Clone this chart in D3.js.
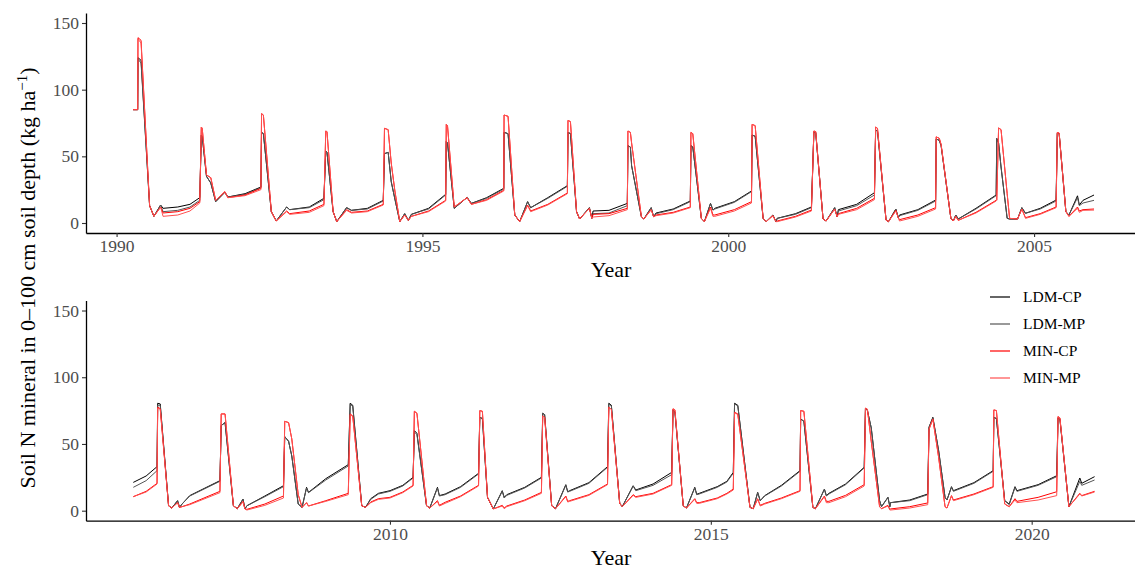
<!DOCTYPE html>
<html><head><meta charset="utf-8">
<script src="https://cdn.jsdelivr.net/npm/d3@7"></script>
<style>body{margin:0;background:#fff}</style>
</head><body>
<svg id="c" width="1135" height="569"></svg>
<script>
// ---- DATA ----
const years = [
 1990.27,1990.345,1990.35,1990.40,1990.54,1990.61,1990.72,1990.76,1991.0,1991.2,1991.36,
 1991.385,1991.40,1991.47,1991.54,1991.62,1991.77,1991.82,1992.1,1992.36,
 1992.37,1992.40,1992.53,1992.61,1992.78,1992.83,1993.15,1993.39,
 1993.42,1993.44,1993.54,1993.60,1993.76,1993.84,1994.1,1994.36,
 1994.38,1994.44,1994.49,1994.55,1994.63,1994.71,1994.77,1994.82,1995.1,1995.38,
 1995.39,1995.41,1995.52,1995.73,1995.80,1996.05,1996.33,
 1996.335,1996.40,1996.51,1996.59,1996.72,1996.77,1997.05,1997.37,
 1997.38,1997.42,1997.52,1997.57,1997.73,1997.77,1997.79,1998.05,1998.35,
 1998.36,1998.40,1998.42,1998.58,1998.62,1998.74,1998.78,1998.82,1999.1,1999.38,
 1999.39,1999.42,1999.56,1999.61,1999.71,1999.75,1999.78,2000.1,2000.38,
 2000.39,2000.44,2000.57,2000.62,2000.73,2000.78,2000.80,2001.1,2001.36,
 2001.40,2001.43,2001.55,2001.60,2001.74,2001.78,2001.80,2002.1,2002.39,
 2002.41,2002.44,2002.58,2002.62,2002.74,2002.78,2002.80,2003.1,2003.39,
 2003.40,2003.45,2003.48,2003.64,2003.68,2003.72,2003.76,2004.05,2004.38,
 2004.39,2004.42,2004.46,2004.56,2004.60,2004.73,2004.80,2004.86,2005.1,2005.36,
 2005.38,2005.41,2005.52,2005.57,2005.71,2005.74,2005.80,2005.98,
 2006.00,2006.2,2006.37,2006.38,2006.42,2006.55,2006.60,2006.69,2006.72,2006.76,2006.88,2007.35,
 2007.37,2007.43,2007.56,2007.62,2007.71,2007.74,2007.77,2008.05,2008.34,
 2008.36,2008.42,2008.47,2008.57,2008.63,2008.70,2008.73,2009.0,2009.35,
 2009.38,2009.42,2009.56,2009.62,2009.70,2009.82,2010.0,2010.2,2010.36,
 2010.38,2010.42,2010.57,2010.62,2010.74,2010.77,2010.86,2011.1,2011.38,
 2011.40,2011.44,2011.52,2011.61,2011.75,2011.78,2011.82,2012.1,2012.36,
 2012.38,2012.41,2012.52,2012.58,2012.74,2012.77,2012.80,2013.1,2013.39,
 2013.41,2013.45,2013.58,2013.62,2013.79,2013.83,2014.1,2014.39,
 2014.41,2014.44,2014.57,2014.62,2014.75,2014.78,2014.82,2015.1,2015.25,2015.35,
 2015.37,2015.42,2015.61,2015.66,2015.73,2015.77,2015.84,2016.1,2016.39,
 2016.40,2016.45,2016.59,2016.63,2016.77,2016.80,2016.84,2017.1,2017.39,
 2017.41,2017.44,2017.50,2017.63,2017.66,2017.76,2017.79,2017.80,2018.1,2018.38,
 2018.40,2018.46,2018.55,2018.65,2018.68,2018.75,2018.78,2019.1,2019.40,
 2019.41,2019.45,2019.58,2019.65,2019.74,2019.77,2020.1,2020.39,
 2020.41,2020.44,2020.58,2020.75,2020.78,2020.98
];
const ldmCP = [
 85,85,124,122,13,5,13.5,11,12,14,19,
 66,65,35,30,16,23,19.5,22,27,
 68,67,8.5,1.5,12,10,12,18.5,
 54,53,8.5,1,11.5,9.5,11,17,
 52,53,31,18,1,7,2,6.5,11,21.5,
 61,60,11,19.2,14.7,19,26,
 68,67,6,1,16,11.5,19,28,
 68,67,8.5,3,11.5,3.5,9,9.5,14.7,
 58,57,43,4.7,3,11.5,4.7,7.5,10.5,16.5,
 58,57,3.5,1,14.7,9.7,11,16,24,
 66,65,3.5,1,6,1,3.5,7,12,
 68.4,68,3,1.5,11.5,4.7,10,14,22.7,
 69.6,69,2.2,1,10.5,4,6,10,17.2,
 63,62,58,3.5,1.5,6,3,11,21,
 63.4,60,42,3.5,3,3,11.5,7.3,11,17.2,
 67.4,67,8.5,6,20.4,13.5,17,21,
 21.2,26,33,80.5,80,3.7,2,7.5,2.5,5,11.3,22.5,
 63.8,66,3.7,1.5,8.7,1.3,3.7,11,18.7,
 55.5,52,41,5,2.5,17.5,13.7,24,34.5,
 80.5,79,3.7,2.5,9,13,15,19,25,
 60,58,3.7,2,17.5,11.3,12.5,18,28,
 70,69,10,1.3,15,10,12,17.5,25,
 73,72,3.7,1.5,19.5,14.2,15,21,33,
 80.5,79,5.5,3,18.7,15.5,20,28.7,
 75.5,74,3.7,2,17.5,12.3,13,18,22,28.7,
 80.5,79,2.5,1.5,13.7,7.5,11.3,19,30,
 68.8,67,2.5,1.5,16.2,11.3,13,20,32.5,
 76.8,75,62,7.5,3,10,3,6,8,12.5,
 62.5,70,45,10,8,18,15,21,30,
 70,69,7.5,5,18,15,19.5,26.2,
 69.5,68.5,3,24.5,20.5,25.5
];
const ldmMP = [
 85,85,123,120,13,5,13.5,8.5,9.5,12,17,
 66,65,35,30,16,23,19.5,21.5,26.5,
 68,67,8.5,1.5,12,10,11.5,17.5,
 54,53,8.5,1,11.5,9.5,10.5,16.5,
 52,53,31,18,1,7,2,6.5,10.5,21,
 61,60,11,19.2,14.7,18.5,25.5,
 68,67,6,1,16,11.5,18.5,27.5,
 68,67,8.5,3,11.5,3.5,7,7.5,13,
 58,57,43,4.7,3,11.5,4.7,7,10,16,
 58,57,3.5,1,14.7,9.7,10.5,15.5,23.5,
 66,65,3.5,1,6,1,3.5,6.5,11.5,
 68,67.5,3,1.5,11.5,4.7,9,13,21,
 69.6,69,2.2,1,10.5,4,5.5,9.5,16.5,
 63,62,58,3.5,1.5,6,3,10.5,20.5,
 63.4,60,42,3.5,3,3,11.5,7.3,10.5,16.5,
 67.4,67,8.5,6,19,13,15,17,
 17.5,22.5,30,79,79,3.7,2,7.5,2.5,5,11,22,
 63.8,66,3.7,1.5,8.7,1.3,3.7,10.5,18,
 55.5,52,41,5,2.5,17,13.5,23,33.5,
 80,78,3.7,2.5,8.5,12.5,14.5,18.5,24.5,
 59,57,3.7,2,17,11,12,17.5,27.5,
 70,69,10,1.3,14.5,9.5,11.5,17,24.5,
 73,72,3.7,1.5,19,14,14.5,20.5,32.5,
 80,78.5,5.5,3,18.5,15,19,27,
 75.5,74,3.7,2,17,12,12.5,17.5,21.5,28,
 80,78.5,2.5,1.5,13.5,7.5,11,18.5,29.5,
 68.5,67,2.5,1.5,16,11,12.5,19.5,32,
 76.8,75,62,7.5,3,10,3,6,7.5,12,
 62.5,69.5,45,10,8,17.5,14.5,20.5,29.5,
 70,69,7.5,4.5,17.5,14.5,19,25.5,
 69.5,68.5,3,22,19,23
];
const minCP = [
 85,85,139,137,13,5,12,7.5,8.5,11,16,
 72,71,36,34,17,23.5,19,21,26,
 82,81,8.5,1.5,9,7,9,14,
 69,68.5,8.5,1,10,8,9,14,
 71,70,45,24,1,6,2,5,9,17,
 74,73,12,19,14,17.5,24.5,
 81,80,6,1,13.5,9,14,22.5,
 77,76,8.5,3,11,3.5,6.5,7,11,
 69,68,60,4.7,3,10,4.7,6,8,12,
 68,67,3.5,1,12,6,6,10,16,
 74,73,3.5,1,5.5,1,1.5,5,9.7,
 69,68.5,3,1.5,10.5,4.7,7,11,18.5,
 72,71,2.2,1,9.5,4,2.5,6,11.5,
 64.6,63.5,59,3.5,1.5,5,2,8,17,
 17.5,71.3,70,22,3.5,3,10.5,4,7,12,
 67.9,67.5,8.5,5,12,9,10,10.5,
 10.5,14.5,20.5,77.5,76.5,3.7,2,6,2.5,3,5,14.5,
 72.5,72.5,3.7,1.5,7,1.3,1,5,11,
 67,66,53.8,12,2.5,6,3.5,7.5,13,
 72.5,71,3.7,2.5,6.5,9,10,14,19,
 74.5,73,3.7,2,7.5,4,6.3,11,19,
 75,74.5,10,1.3,4,2,3.5,8,13.7,
 71,70,3.7,1.5,11,7,7.5,12,20,
 77.5,76,5.5,3,12,10.5,13,19.5,
 76.3,75.5,3.7,2,9,6,6,9.5,13,16.2,
 73.7,72.5,2.5,1.5,9,4,5.5,9.5,15,
 75,74.5,2.5,1.5,11,7,7,11.5,19.5,
 76.8,76,52,3,1.5,4,1,1.3,3,5.8,
 61,68.8,40,3,2,11.3,8,12.5,18,
 75.5,75,5,3,9,7,10,14.2,
 70.5,69.5,3,13,11.3,14.5
];
const minMP = [
 85,85,138,135,13,5,12,5,6,9,15,
 72,71,36,34,17,23.5,19,20.5,25,
 82,81,8.5,1.5,8.5,6.5,8,13,
 69,68.5,8.5,1,9.5,7.5,8.5,13.5,
 71,70,45,24,1,6,2,5,8.5,16.5,
 74,73,12,19,14,17,24,
 81,80,6,1,13,8.5,13.5,22,
 77,76,8.5,3,11,3.5,4.5,5.5,10,
 69,68,60,4.7,3,10,4.7,5.5,7.5,11.5,
 68,67,3.5,1,11,5,5,9,15,
 74,73,3.5,1,5.5,1,1,4.5,9,
 69,68.5,3,1.5,10.5,4.7,6.5,10,17.5,
 72,71,2.2,1,9,4,1.5,5,10.5,
 64.6,63.5,59,3.5,1.5,5,2,7.5,16.5,
 17,71.3,70,22,3.5,3,10.5,3.5,6.5,11.5,
 67.9,67.5,8.5,5,11,8,9.5,9.7,
 10.5,14,20,77,76,3.7,2,6,2.5,3,4.5,13.5,
 72.5,72.5,3.7,1.5,6.5,1.3,0.5,4,9.5,
 67,66,53.8,12,2.5,6,3.5,7,12,
 72,70.5,3.7,2.5,6,8.5,9.5,13.5,18.5,
 74.5,73,3.7,2,7,3.5,5.5,10.5,18.5,
 75,74.5,10,1.3,3.5,1.5,3,7.5,13,
 71,70,3.7,1.5,10.5,6.5,7,11.5,19.5,
 77.5,76,5.5,3,11.5,10,12.5,19,
 76.3,75.5,3.7,2,8.5,5.5,5.5,9,12.5,15.5,
 73.5,72,2.5,1.5,8.5,3.5,5,9,14.5,
 75,74.5,2.5,1.5,10.5,6,6,10.5,18.5,
 76.8,76,52,3,1.5,3.5,0.5,0.5,2,4.5,
 61,68.5,40,3,2,11,7.5,12,17.5,
 75.5,75,5,3,8,6,8,11.3,
 70.5,69.5,3,12.5,11,14
];
const seriesNames = ["LDM-CP","LDM-MP","MIN-CP","MIN-MP"];
const seriesColors = ["#000000","#555555","#ff0000","#ff5050"];
const topTicks = [1990,1995,2000,2005];
const bottomTicks = [2010,2015,2020];
const yTicks = [0,50,100,150];
const panelBreak = 2006;

// ---- DRAWING ----
console.log(years.length, ldmCP.length, ldmMP.length, minCP.length, minMP.length);
const svg = d3.select("#c");
const FONT = "'Liberation Serif','Times New Roman',serif";
const allSeries = [ldmCP, ldmMP, minCP, minMP];

const panels = [
  {xDom:[1989.5,2006.65], yRange:[233,13], ticks:topTicks, filter:t=>t<panelBreak, titleY:277},
  {xDom:[2005.263,2021.61], yRange:[520.7,300.5], ticks:bottomTicks, filter:t=>t>=panelBreak, titleY:565}
];

panels.forEach(p=>{
  const x = d3.scaleLinear().domain(p.xDom).range([86,1135]);
  const y = d3.scaleLinear().domain([-7.5,157.5]).range(p.yRange);
  const g = svg.append("g");
  const line = d3.line().x(d=>x(d.t)).y(d=>y(d.v));
  allSeries.forEach((vals,i)=>{
    const pts = years.map((t,j)=>({t, v:vals[j]})).filter(d=>p.filter(d.t));
    g.append("path").datum(pts).attr("d",line)
      .attr("fill","none").attr("stroke",seriesColors[i]).attr("stroke-width",1);
  });
  const xa = g.append("g").attr("transform",`translate(0,${p.yRange[0]})`)
    .call(d3.axisBottom(x).tickValues(p.ticks).tickFormat(d3.format("d")).tickSize(4).tickSizeOuter(0));
  const ya = g.append("g").attr("transform","translate(86,0)")
    .call(d3.axisLeft(y).tickValues(yTicks).tickSize(4).tickSizeOuter(0));
  [xa,ya].forEach(a=>{
    a.select(".domain").attr("stroke","#000").attr("stroke-width",1.3);
    a.selectAll(".tick line").attr("stroke","#333").attr("stroke-width",1.1);
    a.selectAll(".tick text").attr("font-family",FONT).attr("font-size",17.5).attr("fill","#4d4d4d");
  });
  g.append("text").attr("x",611).attr("y",p.titleY).attr("text-anchor","middle")
    .attr("font-family",FONT).attr("font-size",22).attr("fill","#000").text("Year");
});

// y title
const yt = svg.append("text").attr("transform","translate(35,278) rotate(-90)")
  .attr("text-anchor","middle").attr("font-family",FONT).attr("font-size",22).attr("fill","#000");
yt.append("tspan").text("Soil N mineral in 0\u2013100 cm soil depth (kg ha");
yt.append("tspan").attr("dy",-8).attr("font-size",15).text("\u22121");
yt.append("tspan").attr("dy",8).text(")");

// legend
const lg = svg.append("g");
seriesNames.forEach((n,i)=>{
  const yy = 297 + i*27;
  lg.append("line").attr("x1",990).attr("x2",1010).attr("y1",yy).attr("y2",yy)
    .attr("stroke",seriesColors[i]).attr("stroke-width",1.2);
  lg.append("text").attr("x",1023).attr("y",yy).attr("dy","0.35em")
    .attr("font-family",FONT).attr("font-size",15.5).attr("fill","#000").text(n);
});
</script>
</body></html>
